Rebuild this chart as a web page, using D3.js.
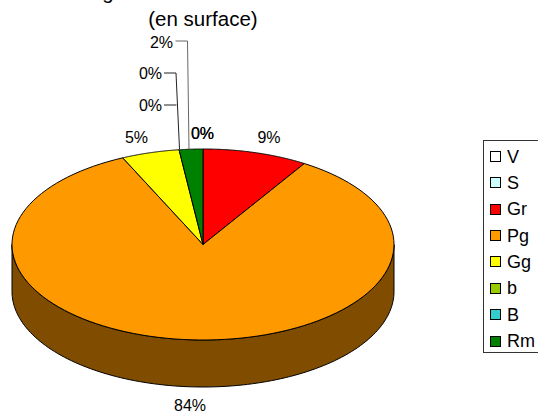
<!DOCTYPE html>
<html><head><meta charset="utf-8">
<script src="https://cdn.jsdelivr.net/npm/d3@7"></script>
<style>html,body{margin:0;background:#fff}svg{display:block}text{font-family:"Liberation Sans",Arial,sans-serif;fill:#000}</style>
</head><body><svg width="538" height="412"></svg>
<script>
const categories=["V","S","Gr","Pg","Gg","b","B","Rm"];
const values=[0,0,8.9,84.2,4.9,0,0,2.0];
const labels=["0%","0%","9%","84%","5%","0%","0%","2%"];
const colors=["#ffffff","#ccffff","#ff0000","#ff9900","#ffff00","#99cc00","#33cccc","#008000"];
const titleLines=["g","(en surface)"];
const svg=d3.select("svg");
const cx=203,cy=244.5,rx=191,ry=95.5,depth=47;
const arcs=d3.pie().sort(null).value(d=>d)(values);
const pt=(a,dy=0)=>[cx+rx*Math.sin(a),cy-ry*Math.cos(a)+dy];
const ang=d3.scaleLinear().domain([0,1]);
function arcPath(a0,a1,dy=0,n=120){
  ang.range([a0,a1]);
  return d3.range(n+1).map(i=>pt(ang(i/n),dy));
}
const line=d3.line();
const wallSlices=arcs.filter(d=>d.endAngle>d.startAngle);
wallSlices.forEach(d=>{
  const a0=Math.max(d.startAngle,Math.PI/2),a1=Math.min(d.endAngle,3*Math.PI/2);
  if(a1<=a0)return;
  const top=arcPath(a0,a1),bot=arcPath(a0,a1,depth).reverse();
  svg.append("path").attr("d",line(top.concat(bot))+"Z")
    .attr("fill","#7f4c00").attr("stroke","#000").attr("stroke-width",1);
});
wallSlices.forEach(d=>{
  const p=[[cx,cy]].concat(arcPath(d.startAngle,d.endAngle));
  svg.append("path").attr("d",line(p)+"Z").attr("fill",colors[d.index])
    .attr("stroke","#000").attr("stroke-width",1).attr("stroke-linejoin","round");
});
const txt=(x,y,s,o={})=>svg.append("text").attr("x",x).attr("y",y).attr("font-size",o.size||16)
  .attr("text-anchor",o.anchor||"middle").text(s);
txt(203,26,titleLines[1],{size:20.5});
txt(108,-1,titleLines[0],{size:20.5});
const labelPos=[[202.5,139],[202.5,139],[269,143],[190,411],[136.5,143],[150.5,111],[150.5,79],[161.5,48]];
labels.forEach((s,i)=>{ txt(labelPos[i][0],labelPos[i][1],s); });
const leaders=[[[164,105],[176.5,105]],[[164,73],[176,73],[179.5,149]],[[175.5,41],[187.5,41],[189,149]]];
leaders.forEach((l,i)=>svg.append("path").attr("d",line(l)).attr("fill","none")
  .attr("stroke",i==2?"#666":"#222").attr("stroke-width",1));
const lg=svg.append("g");
lg.append("rect").attr("x",483.5).attr("y",140.5).attr("width",56).attr("height",212).attr("fill","#fff").attr("stroke","#333");
const ly=d3.scalePoint().domain(categories).range([156,340.5]);
categories.forEach((c,i)=>{
  lg.append("rect").attr("x",490.5).attr("y",Math.round(ly(c))-4.5).attr("width",10).attr("height",10).attr("fill",colors[i]).attr("stroke","#000");
  lg.append("text").attr("x",507).attr("y",ly(c)+6.5).attr("font-size",18).text(c);
});
</script></body></html>
